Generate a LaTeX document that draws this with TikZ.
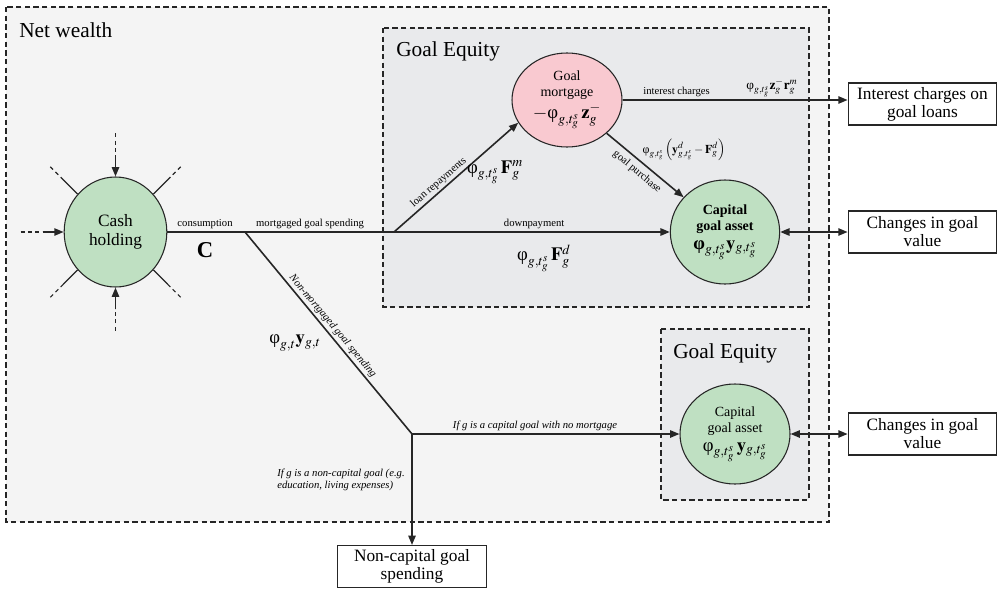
\documentclass[tikz,border=0pt]{standalone}
\usepackage{amsmath}
\usepackage{mathptmx}
\usepackage[no-math]{fontspec}
\setmainfont{Liberation Serif}
\usetikzlibrary{arrows.meta,shapes.geometric}

\definecolor{netfill}{RGB}{244,244,244}
\definecolor{eqfill}{RGB}{233,234,236}
\definecolor{cashgreen}{RGB}{191,224,194}
\definecolor{mortpink}{RGB}{249,201,208}

\newcommand{\vph}{\text{φ}}
\newcommand{\ts}{t_g^s}

\tikzset{
  frame/.style={draw=black!85, dash pattern=on 4pt off 2.5pt, line width=0.8pt},
  flow/.style={draw=black!85, line width=1.2pt, -{Triangle[length=7pt,width=5.5pt]}},
  flowboth/.style={flow, {Triangle[length=7pt,width=5.5pt]}-{Triangle[length=7pt,width=5.5pt]}},
  plain/.style={draw=black!85, line width=1.2pt},
  stubdash/.style={draw=black!85, line width=0.8pt, dash pattern=on 3pt off 2.5pt},
  stock/.style={ellipse, draw=black!85, line width=0.8pt, inner sep=0pt, align=center, font=\fontsize{10.5}{12}\selectfont},
  sink/.style={rectangle, draw=black!85, line width=0.8pt, minimum width=111.5pt, minimum height=31.5pt, align=center, inner sep=1pt, font=\fontsize{13}{13.5}\selectfont},
  tag/.style={font=\fontsize{8}{9}\selectfont, inner sep=1.5pt},
  itag/.style={tag, font=\fontsize{8}{9.5}\selectfont\itshape},
  eqn/.style={font=\fontsize{14}{16}\selectfont, inner sep=0pt},
  title/.style={font=\fontsize{16}{18}\selectfont, anchor=west, inner sep=0pt}
}

\begin{document}
\begin{tikzpicture}[x=0.75pt,y=0.75pt,yscale=-1,xscale=1]
\useasboundingbox (0,0) rectangle (999,589);

%Shape: Rectangle net wealth
\draw [frame, fill=netfill] (6,7) rectangle (829,522);
%Shape: Rectangle goal equity (mortgaged)
\draw [frame, fill=eqfill] (383,28) rectangle (809,307);
%Shape: Rectangle goal equity (no mortgage)
\draw [frame, fill=eqfill] (661,329) rectangle (809,500);

% Text Node
\node [title] (tnet) at (19,30) {Net wealth};
\node [title] (teq1) at (396,51) {Goal Equity};
\node [title] (teq2) at (673,353) {Goal Equity};

%Shape: Ellipse cash
\node [stock, fill=cashgreen, minimum width=77pt, minimum height=82.5pt, font=\fontsize{13}{14.5}\selectfont] (cash) at (115.5,232) {Cash\\holding};
%Shape: Ellipse mortgage
\node [stock, fill=mortpink, minimum width=82.5pt, minimum height=70.5pt] (mort) at (567,100) {Goal\\mortgage\\[2pt]{\fontsize{14}{16}\selectfont$-\vph_{g,\ts}\,\mathbf{z}_g^-$}};
%Shape: Ellipse capital goal asset
\node [stock, fill=cashgreen, minimum width=82pt, minimum height=78pt, font=\bfseries\fontsize{10.5}{12}\selectfont] (cap1) at (725,232) {Capital\\goal asset\\[2pt]{\fontsize{14}{16}\selectfont$\vph_{g,\ts}\mathbf{y}_{g,\ts}$}};
\node [stock, fill=cashgreen, minimum width=82.5pt, minimum height=75pt] (cap2) at (735,434) {Capital\\goal asset\\[2pt]{\fontsize{14}{16}\selectfont$\vph_{g,\ts}\,\mathbf{y}_{g,\ts}$}};

%Shape: Rectangle sinks
\node [sink] (intbox) at (922.5,104) {Interest charges on\\goal loans};
\node [sink] (chg1) at (922.5,232) {Changes in goal\\value};
\node [sink] (chg2) at (922.5,434) {Changes in goal\\value};
\node [sink] (noncap) at (412,566.5) {Non-capital goal\\spending};

%Straight Lines stubs round cash
\foreach \a in {90,180,270} {
  \path (cash.\a) ++(-\a:21) coordinate (in\a) ++(-\a:22) coordinate (out\a);
  \draw [stubdash] (out\a) -- (in\a);
  \draw [flow] (in\a) -- (cash.\a);
}
\foreach \a in {45,135,225,315} {
  \path (cash.\a) ++(-\a:20) coordinate (in\a) ++(-\a:19) coordinate (out\a);
  \draw [plain, line width=1pt] (cash.\a) -- (in\a);
  \draw [stubdash] (in\a) -- (out\a);
}

\coordinate (split) at (245,232);
\coordinate (fork) at (394,232);
\coordinate (junc) at (412,434);

%Straight Lines main flow
\draw [flow] (cash.east) -- node [tag, above, pos=0.075] {consumption}
  node [tag, above, pos=0.284] {mortgaged goal spending}
  node [tag, above, pos=0.73] {downpayment} (cap1.west);
\draw [flow] (fork) -- node [tag, rotate=41, above, pos=0.4] {loan repayments} (mort.205);
\draw [flow] (mort.320) -- node [tag, rotate=-40, below=2pt, pos=0.48] {goal purchase} (cap1.140);
\draw [flow] (mort.east) -- node [tag, above, pos=0.24] {interest charges} (mort.east -| intbox.west);
\draw [flowboth] (cap1.east) -- (chg1.west);
\draw [plain] (split) -- node [itag, rotate=-50.3, above, pos=0.49] {Non-mortgaged goal spending} (junc);
\draw [flow] (junc) -- node [itag, above, pos=0.46] {If g is a capital goal with no mortgage} (cap2.west);
\draw [flow] (junc) -- (noncap.north);
\draw [flowboth] (cap2.east) -- (cap2.east -| chg2.west);

% Text Node
\node [font=\bfseries\fontsize{17}{18}\selectfont, inner sep=0pt] (cons) at (205,250) {C};
\node [eqn] (fm) at (495,172) {$\vph_{g,\ts}\,\mathbf{F}_g^m$};
\node [eqn] (fd) at (544,258) {$\vph_{g,\ts}\,\mathbf{F}_g^d$};
\node [eqn, font=\fontsize{10}{12}\selectfont] (fint) at (772,88) {$\vph_{g,\ts}\mathbf{z}_g^-\mathbf{r}_g^m$};
\node [eqn, font=\fontsize{9}{11}\selectfont] (fp) at (684,150) {$\vph_{g,\ts}\left(\mathbf{y}^d_{g,\ts}-\mathbf{F}^d_g\right)$};
\node [eqn] (fy) at (295,343) {$\vph_{g,t}\mathbf{y}_{g,t}$};
\node [itag, anchor=west, align=left] (nclab) at (275,480) {If g is a non-capital goal (e.g.\\education, living expenses)};

\end{tikzpicture}
\end{document}
